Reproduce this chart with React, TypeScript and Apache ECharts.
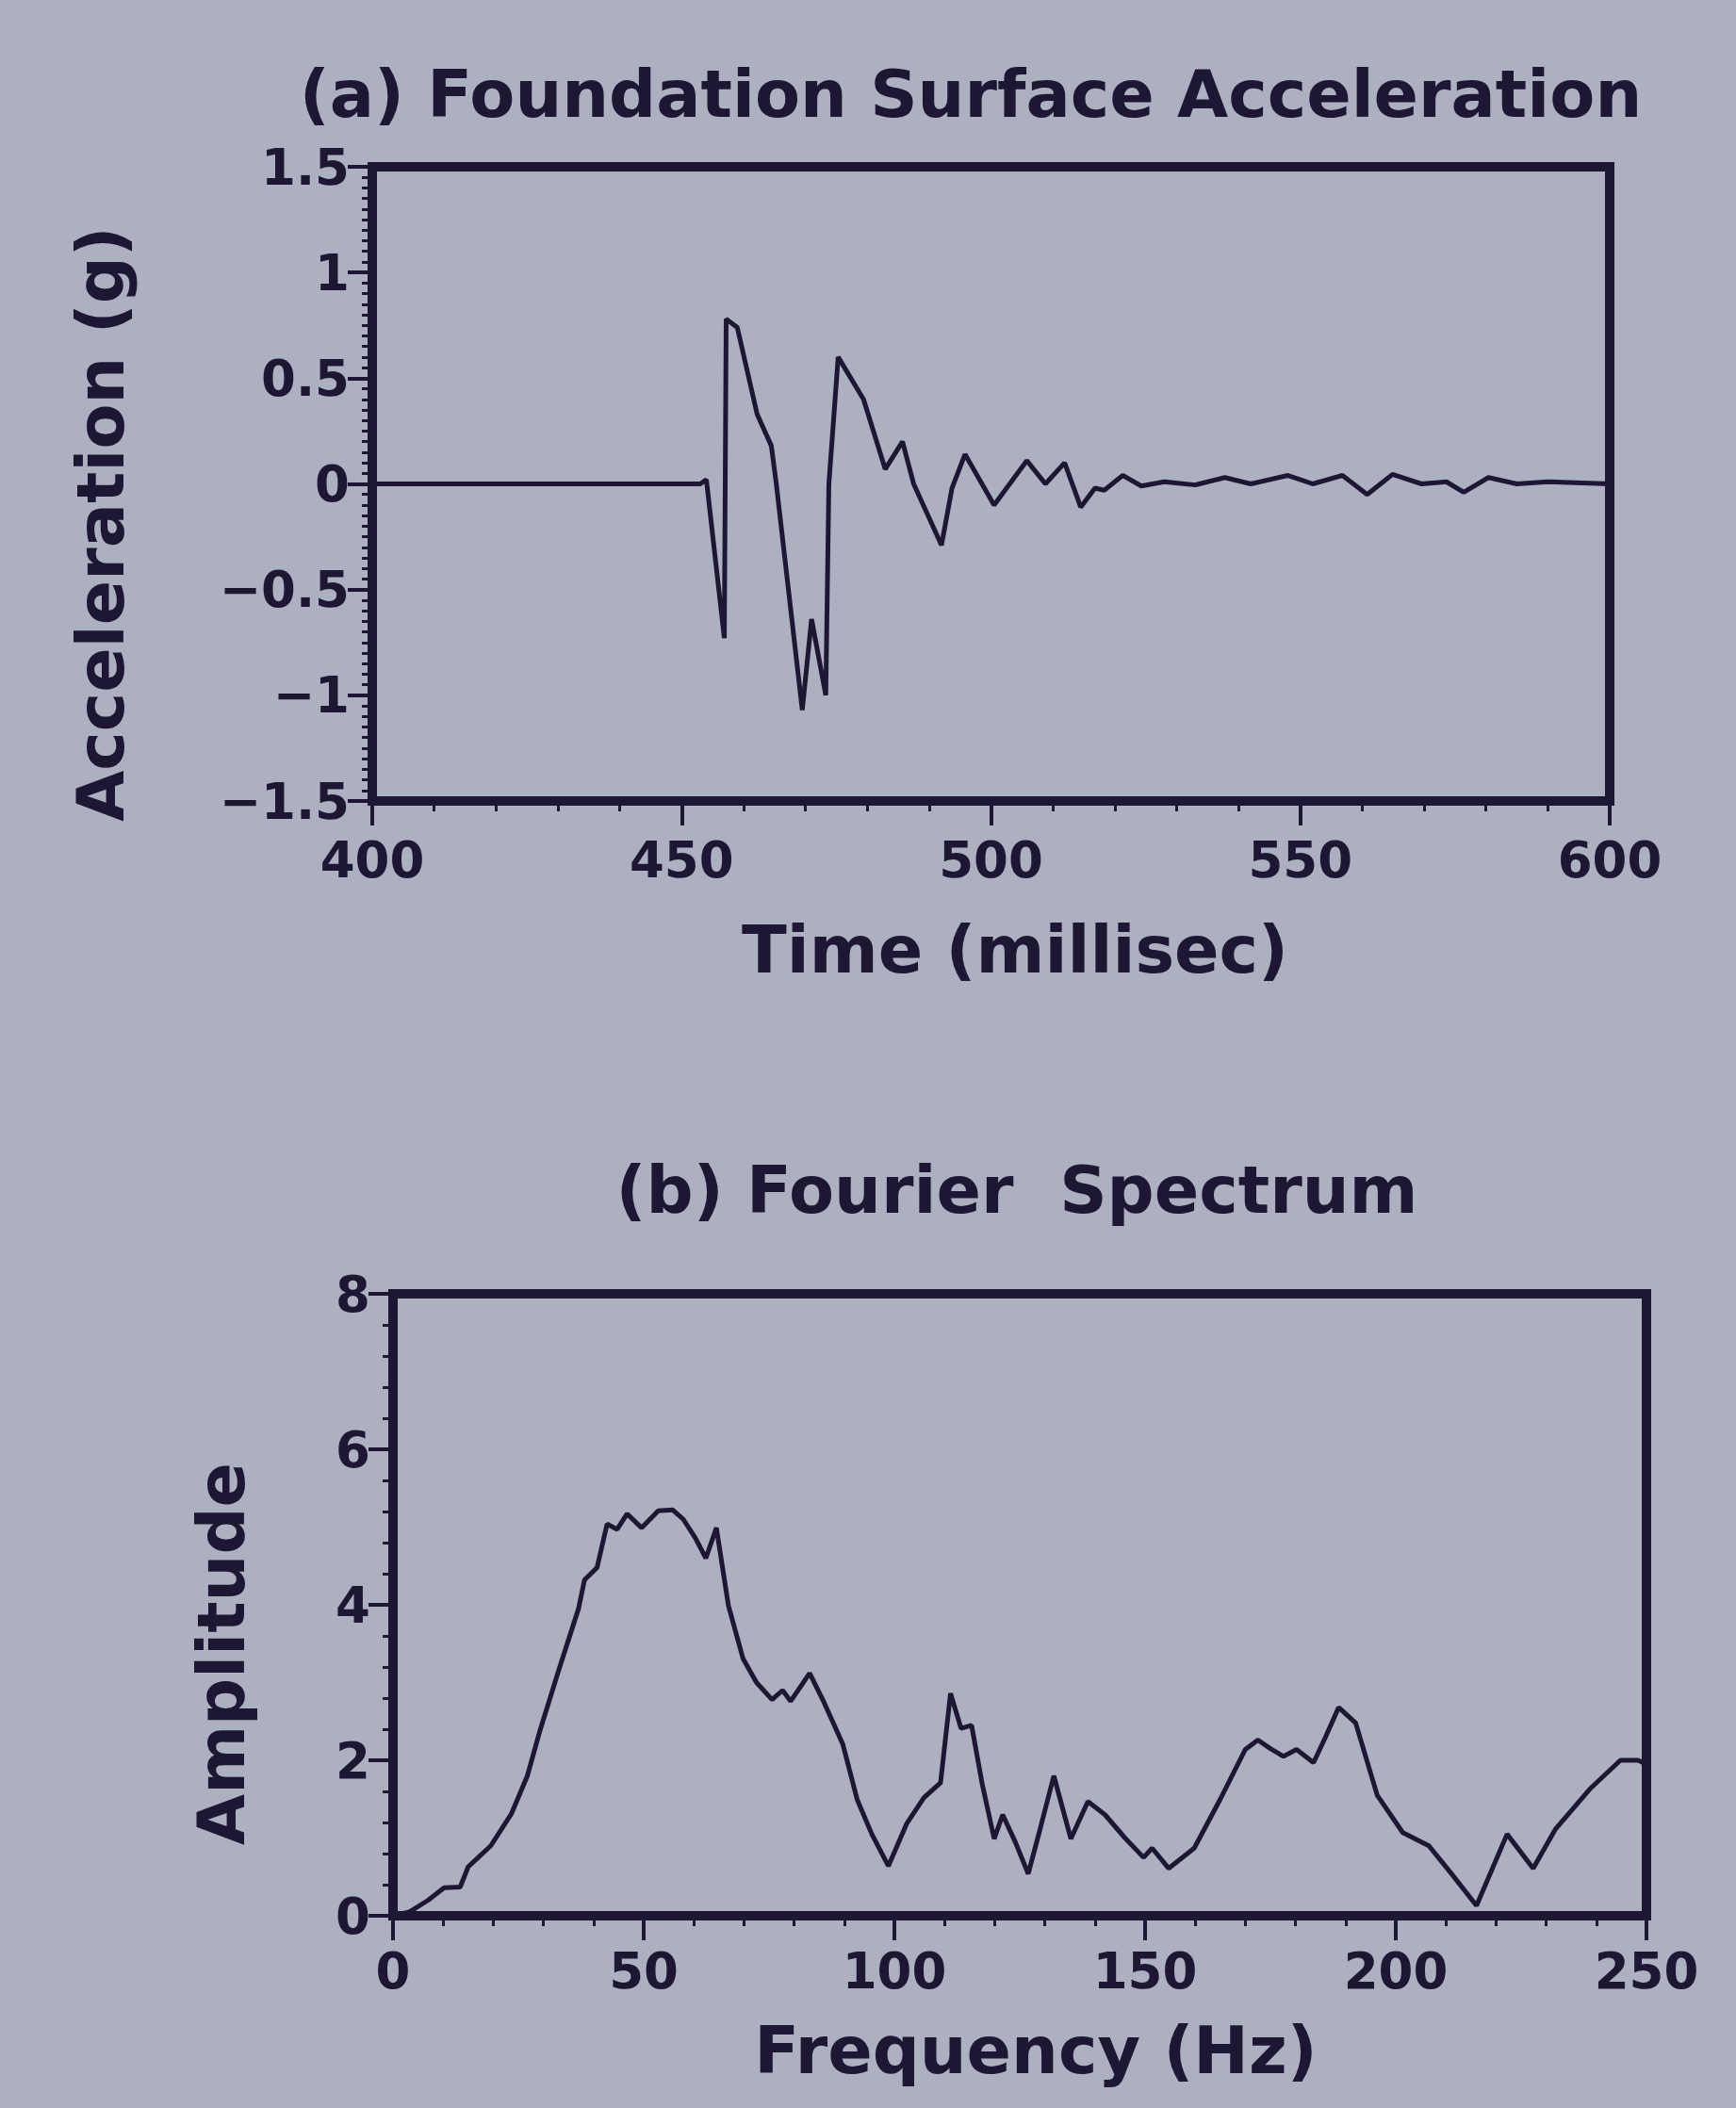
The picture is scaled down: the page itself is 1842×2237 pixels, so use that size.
import React, { useEffect, useRef } from "react";
import * as echarts from "echarts";

// (a) Foundation surface acceleration – time (ms) and acceleration (g)
const TIME_MS = [
  400, 453, 454, 456.9, 457.2, 459, 462.2, 464.5, 465.3, 469.5, 471, 473.3, 473.8,
  475.3, 479.4, 482.9, 485.7, 487.5, 492, 493.7, 495.8, 500.5, 505.8, 508.8, 511.9,
  514.5, 516.8, 518.3, 521.3, 524.3, 528, 533, 537.8, 542, 548, 552, 556.8, 560.8,
  564.9, 569.6, 573.6, 576.4, 580.4, 585, 590, 600,
];
const ACCEL_G = [
  0, 0, 0.02, -0.73, 0.78, 0.74, 0.33, 0.18, 0, -1.07, -0.64, -1.0, 0,
  0.6, 0.4, 0.07, 0.2, 0, -0.29, -0.02, 0.14, -0.1, 0.11, 0, 0.1,
  -0.11, -0.02, -0.03, 0.04, -0.01, 0.01, -0.005, 0.03, 0, 0.04, 0, 0.04, -0.05,
  0.045, 0, 0.01, -0.04, 0.03, 0, 0.01, 0,
];

// (b) Fourier spectrum – frequency (Hz) and amplitude
const FREQ_HZ = [
  0, 3.3, 7, 10.2, 13.4, 15, 19.5, 23.6, 26.8, 29.3, 33.3, 37, 38.2, 40.7, 42.7,
  44.7, 46.7, 49.6, 52.9, 55.8, 57.9, 60.3, 62.4, 64.5, 66.9, 69.8, 72.5, 75.6,
  77.7, 79.3, 83.1, 86, 89.7, 92.6, 95.5, 98.8, 102.5, 105.9, 109.2, 111.2, 113.3,
  115.4, 117.5, 119.9, 121.6, 124.1, 126.7, 129, 131.8, 135.2, 138.6, 142, 146,
  149.7, 151.4, 154.7, 159.8, 165, 170, 172.5, 175, 177.6, 180.2, 183.6, 186,
  188.6, 192, 196.3, 201.4, 206.6, 211, 216.1, 222.2, 227.4, 231.8, 238.7, 244.8,
  248.3, 250,
];
const AMPLITUDE = [
  0, 0.05, 0.2, 0.36, 0.37, 0.63, 0.9, 1.31, 1.8, 2.38, 3.21, 3.95, 4.32, 4.48, 5.04,
  4.97, 5.17, 4.99, 5.21, 5.22, 5.1, 4.86, 4.6, 4.99, 3.99, 3.31, 3.0, 2.78,
  2.9, 2.76, 3.12, 2.74, 2.21, 1.49, 1.05, 0.64, 1.19, 1.52, 1.71, 2.86, 2.41,
  2.45, 1.7, 0.99, 1.3, 0.95, 0.54, 1.1, 1.8, 0.99, 1.47, 1.3, 1.0,
  0.75, 0.87, 0.61, 0.87, 1.5, 2.14, 2.26, 2.15, 2.05, 2.14, 1.97, 2.3,
  2.68, 2.48, 1.55, 1.07, 0.9, 0.55, 0.13, 1.05, 0.61, 1.11, 1.63, 2.0,
  2.0, 1.95,
];

const TITLE_A = "(a) Foundation Surface Acceleration";
const TITLE_B = "(b) Fourier  Spectrum";
const X_NAME_A = "Time (millisec)";
const Y_NAME_A = "Acceleration (g)";
const X_NAME_B = "Frequency (Hz)";
const Y_NAME_B = "Amplitude";

const INK = "#1d1733";
const PAPER = "#acb0c0";
const FONT = '"DejaVu Sans", sans-serif';

function zip(xs: number[], ys: number[]) {
  return xs.map((x, i) => [x, ys[i]]);
}

const fmt = (v: number) => String(v).replace("-", "\u2212");

function axisCommon(minorSplit: number, margin: number) {
  return {
    type: "value" as const,
    splitLine: { show: false },
    axisLine: { show: true, onZero: false, lineStyle: { color: INK, width: 10 } },
    axisTick: { show: true, inside: false, length: 26, lineStyle: { color: INK, width: 4 } },
    minorTick: { show: true, splitNumber: minorSplit, length: 11, lineStyle: { color: INK, width: 3 } },
    axisLabel: {
      color: INK,
      fontFamily: FONT,
      fontWeight: "bold" as const,
      fontSize: 53,
      margin,
      formatter: fmt,
    },
  };
}

export default function App() {
  const ref = useRef<HTMLDivElement>(null);

  useEffect(() => {
    if (!ref.current) return;
    const chart = echarts.init(ref.current, undefined, { renderer: "svg" });
    const bigFont = `bold 70px ${FONT}`;
    chart.setOption({
      animation: false,
      backgroundColor: PAPER,
      grid: [
        { left: 395, top: 177, width: 1313, height: 673, show: true, borderColor: INK, borderWidth: 10, backgroundColor: "transparent" },
        { left: 417, top: 1373, width: 1330, height: 660, show: true, borderColor: INK, borderWidth: 10, backgroundColor: "transparent" },
      ],
      xAxis: [
        { ...axisCommon(5, 36), gridIndex: 0, min: 400, max: 600, interval: 50 },
        { ...axisCommon(5, 32), gridIndex: 1, min: 0, max: 250, interval: 50 },
      ],
      yAxis: [
        { ...axisCommon(10, 24), gridIndex: 0, min: -1.5, max: 1.5, interval: 0.5 },
        { ...axisCommon(5, 24), gridIndex: 1, min: 0, max: 8, interval: 2 },
      ],
      series: [
        {
          type: "line",
          xAxisIndex: 0,
          yAxisIndex: 0,
          data: zip(TIME_MS, ACCEL_G),
          showSymbol: false,
          lineStyle: { color: INK, width: 5 },
          z: 3,
        },
        {
          type: "line",
          xAxisIndex: 1,
          yAxisIndex: 1,
          data: zip(FREQ_HZ, AMPLITUDE),
          showSymbol: false,
          lineStyle: { color: INK, width: 5 },
          z: 3,
        },
      ],
      graphic: [
        { type: "text", x: 1030, y: 100, style: { text: TITLE_A, fill: INK, font: bigFont, textAlign: "center", textVerticalAlign: "middle" } },
        { type: "text", x: 1077, y: 1008, style: { text: X_NAME_A, fill: INK, font: bigFont, textAlign: "center", textVerticalAlign: "middle" } },
        { type: "text", x: 107, y: 556, rotation: Math.PI / 2, style: { text: Y_NAME_A, fill: INK, font: bigFont, textAlign: "center", textVerticalAlign: "middle" } },
        { type: "text", x: 1079, y: 1263, style: { text: TITLE_B, fill: INK, font: bigFont, textAlign: "center", textVerticalAlign: "middle" } },
        { type: "text", x: 1099, y: 2176, style: { text: X_NAME_B, fill: INK, font: bigFont, textAlign: "center", textVerticalAlign: "middle" } },
        { type: "text", x: 235, y: 1755, rotation: Math.PI / 2, style: { text: Y_NAME_B, fill: INK, font: bigFont, textAlign: "center", textVerticalAlign: "middle" } },
      ],
    });
    return () => chart.dispose();
  }, []);

  return (
    <div
      ref={ref}
      style={{ position: "absolute", left: 0, top: 0, width: 1842, height: 2237, background: PAPER }}
    />
  );
}
